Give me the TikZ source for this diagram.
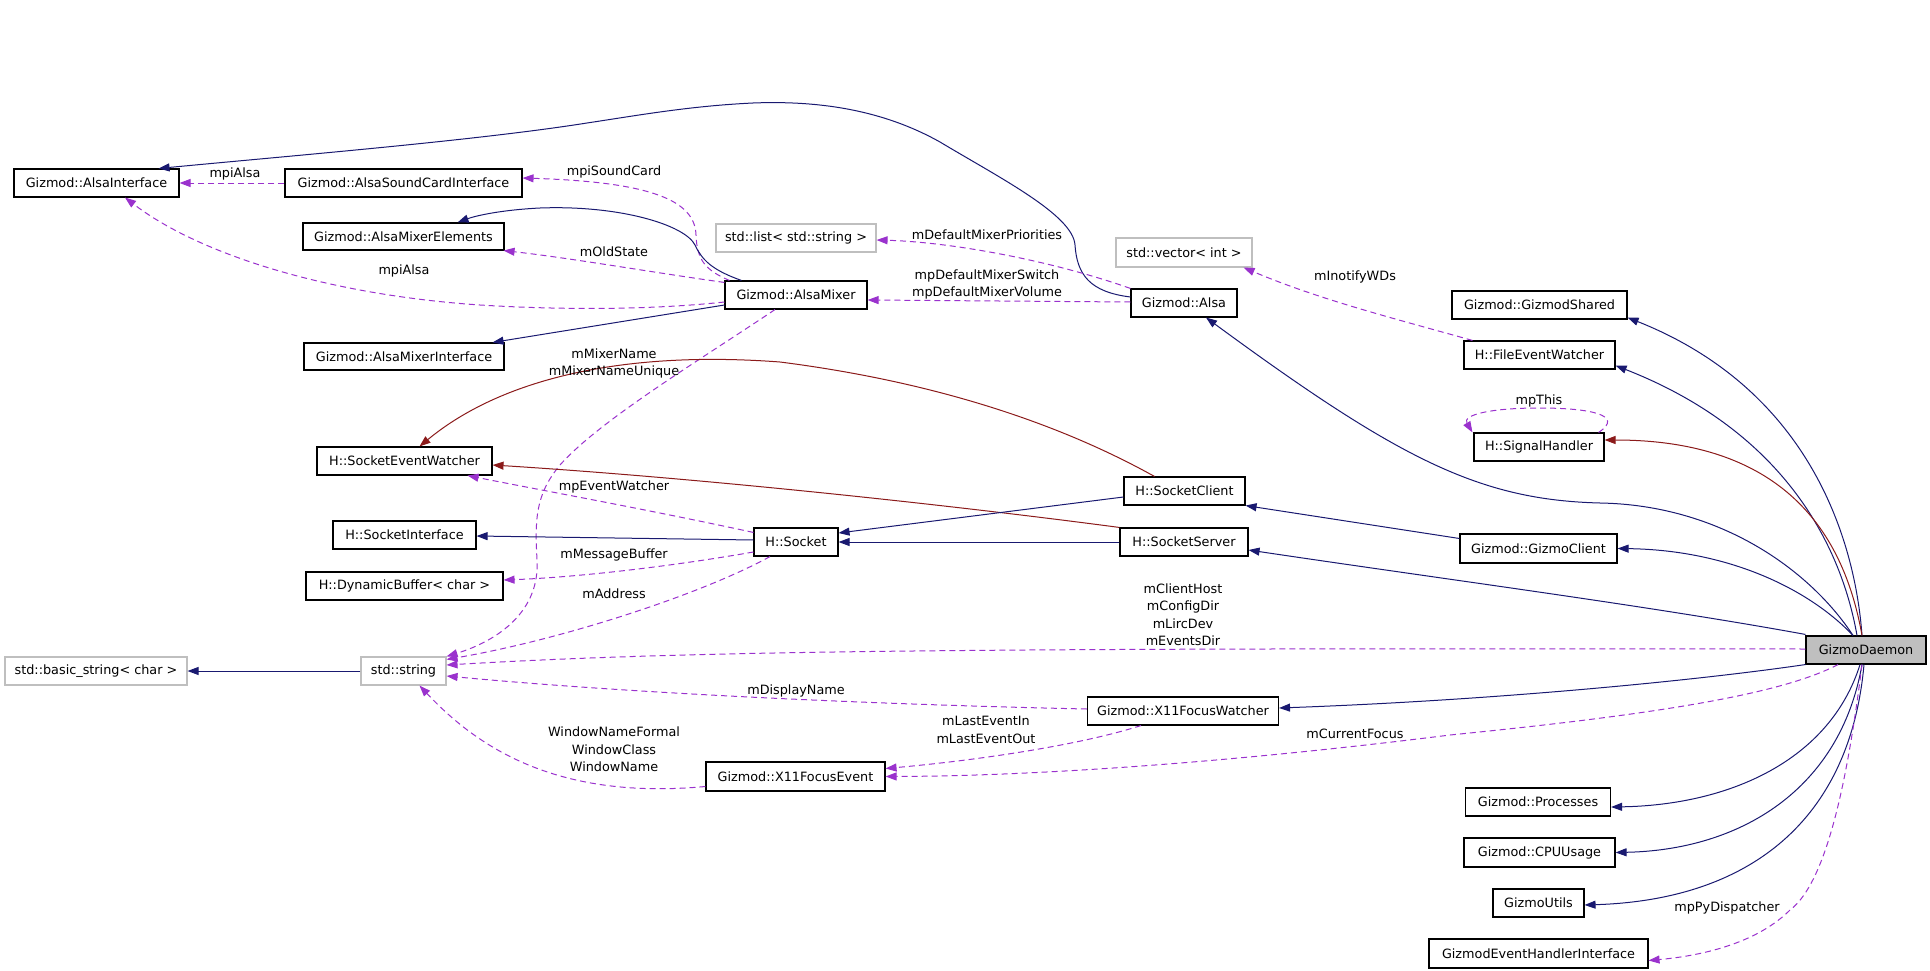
\documentclass[tikz,border=0pt]{standalone}
\usepackage{fontspec}
\setmainfont{DejaVu Sans}
\usetikzlibrary{arrows.meta}
\definecolor{edgeblue}{HTML}{191970}
\definecolor{edgered}{HTML}{8B1A1A}
\definecolor{edgepurple}{HTML}{9A32CD}
\definecolor{boxgray}{HTML}{BFBFBF}
\newcommand{\fs}{\fontsize{12.8}{17.5}\selectfont}
\tikzset{
  box/.style={draw=black, line width=1.1pt, fill=white, inner sep=0pt, minimum height=28pt, font=\fs},
  sbox/.style={box, draw=boxgray},
  inh/.style={draw=edgeblue, line width=1pt, -{Triangle[length=11pt,width=8pt]}},
  priv/.style={draw=edgered, line width=1pt, -{Triangle[length=11pt,width=8pt]}},
  usage/.style={draw=edgepurple, line width=1pt, dash pattern=on 6pt off 4pt, -{Triangle[length=11pt,width=8pt]}},
  lbl/.style={font=\fs, align=center, inner sep=0pt}
}
\begin{document}
\begin{tikzpicture}[x=1pt,y=-1pt]
\useasboundingbox (0,0) rectangle (1930,971);
% nodes
\node[box, minimum width=165pt] (ai) at (96.5,183) {Gizmod::AlsaInterface};
\node[box, minimum width=237pt] (asci) at (403.5,183) {Gizmod::AlsaSoundCardInterface};
\node[box, minimum width=201pt, minimum height=27pt] (ame) at (403.5,236.5) {Gizmod::AlsaMixerElements};
\node[box, minimum width=200pt, minimum height=27pt] (ami) at (404,356.5) {Gizmod::AlsaMixerInterface};
\node[sbox, minimum width=160pt] (slist) at (796,238) {std::list< std::string >};
\node[box, minimum width=142pt] (mixer) at (796,295) {Gizmod::AlsaMixer};
\node[box, minimum width=106pt] (alsa) at (1184,303) {Gizmod::Alsa};
\node[sbox, minimum width=136pt, minimum height=29pt] (svec) at (1184,252.5) {std::vector< int >};
\node[box, minimum width=175pt] (gshared) at (1539.5,305) {Gizmod::GizmodShared};
\node[box, minimum width=151pt] (few) at (1539.5,355) {H::FileEventWatcher};
\node[box, minimum width=130pt] (sh) at (1539,447) {H::SignalHandler};
\node[box, minimum width=157pt, minimum height=29pt] (gclient) at (1538.5,548.5) {Gizmod::GizmoClient};
\node[box, minimum width=175pt] (sew) at (404.5,461) {H::SocketEventWatcher};
\node[box, minimum width=143pt] (si) at (404.5,535) {H::SocketInterface};
\node[box, minimum width=197pt] (db) at (404.5,586) {H::DynamicBuffer< char >};
\node[sbox, minimum width=182pt] (bstr) at (96,671) {std::basic\_string< char >};
\node[sbox, minimum width=85pt] (str) at (403.5,671) {std::string};
\node[box, minimum width=84pt] (sock) at (796,542) {H::Socket};
\node[box, minimum width=121pt] (sclient) at (1184.5,491) {H::SocketClient};
\node[box, minimum width=128pt] (sserver) at (1184,542) {H::SocketServer};
\node[box, minimum width=191pt] (x11w) at (1183,711) {Gizmod::X11FocusWatcher};
\node[box, minimum width=179pt, minimum height=29pt] (x11e) at (795.5,776.5) {Gizmod::X11FocusEvent};
\node[box, minimum width=120pt, fill=boxgray] (gd) at (1866,650) {GizmoDaemon};
\node[box, minimum width=145pt] (proc) at (1538,802) {Gizmod::Processes};
\node[box, minimum width=151pt, minimum height=29pt] (cpu) at (1539.5,852.5) {Gizmod::CPUUsage};
\node[box, minimum width=91pt] (gutils) at (1538.5,903) {GizmoUtils};
\node[box, minimum width=219pt, minimum height=29pt] (gehi) at (1538.5,953.5) {GizmodEventHandlerInterface};

% edges
\draw[inh] ([yshift=6pt]alsa.west) .. controls (1090,292) and (1077,275) .. (1075,245)
  .. controls (1073,215) and (1000,178) .. (940,142)
  .. controls (890,114) and (830,100) .. (753,103)
  .. controls (690,106) and (640,115) .. (587,123)
  .. controls (480,140) and (300,155) .. ([xshift=-21pt]ai.north east);
\draw[usage] (asci.west) -- (ai.east);
\draw[usage] ([xshift=5pt]mixer.north west) .. controls (705,270) and (697,260) .. (696,235)
  .. controls (695,200) and (650,182) .. ([yshift=5pt]asci.east);
\draw[inh] ([xshift=17pt]mixer.north west) .. controls (712,270) and (702,260) .. (695,245)
  .. controls (685,225) and (620,205) .. (540,208)
  .. controls (500,210) and (475,216) .. ([xshift=-47pt]ame.north east);
\draw[usage] ([yshift=-2pt]mixer.north west) .. controls (650,272) and (570,258) .. ([xshift=-1pt]ame.south east);
\draw[usage] ([yshift=-7pt]mixer.west) .. controls (650,310) and (560,310) .. (480,305)
  .. controls (330,295) and (200,255) .. ([xshift=28.5pt]ai.south);
\draw[inh] ([yshift=-10pt]mixer.west) -- ([xshift=-12pt]ami.north east);
\draw[usage] ([xshift=-21pt]mixer.south) .. controls (700,360) and (600,420) .. (560,465)
  .. controls (535,495) and (535,520) .. (537,560)
  .. controls (540,610) and (500,640) .. (str.north east);
\draw[priv] ([xshift=-30pt]sclient.north) .. controls (1080,435) and (960,385) .. (780,362)
  .. controls (620,350) and (500,380) .. ([xshift=15pt]sew.north);
\draw[priv] (sserver.north west) .. controls (950,505) and (700,478) .. ([yshift=-4pt]sew.east);
\draw[usage] ([yshift=-5pt]sock.north west) .. controls (650,510) and (540,490) .. ([xshift=-25pt]sew.south east);
\draw[inh] ([yshift=2pt]sock.west) -- ([yshift=-1pt]si.east);
\draw[usage] ([yshift=-10pt]sock.west) .. controls (650,570) and (560,578) .. ([yshift=6pt]db.east);
\draw[usage] ([xshift=-26pt]sock.south) .. controls (700,595) and (560,640) .. ([yshift=-3pt]str.north east);
\draw[inh] ([yshift=-6pt]sclient.west) -- ([yshift=9pt]sock.east);
\draw[inh] (sserver.west) -- (sock.east);
\draw[usage] ([yshift=1pt]gd.west) .. controls (1000,648) and (700,650) .. ([yshift=6pt]str.east);
\draw[usage] ([yshift=2pt]x11w.west) .. controls (900,705) and (650,695) .. ([yshift=-5pt]str.east);
\draw[usage] ([yshift=-10pt]x11e.west) .. controls (560,800) and (480,750) .. ([xshift=16pt]str.south);
\draw[usage] ([xshift=-42pt]x11w.south) .. controls (1080,745) and (980,760) .. ([yshift=8pt]x11e.east);
\draw[usage] ([xshift=-28pt]gd.south) .. controls (1780,695) and (1650,715) .. (1450,735)
  .. controls (1250,760) and (1050,776) .. (x11e.east);
\draw[inh] ([xshift=-13pt]gd.north) .. controls (1810,570) and (1720,505) .. (1600,503)
  .. controls (1480,500) and (1400,460) .. ([xshift=22pt]alsa.south);
\draw[inh] ([xshift=-4pt]gd.north) .. controls (1855,540) and (1810,390) .. ([yshift=2pt]gshared.south east);
\draw[inh] ([xshift=-9pt]gd.north) .. controls (1840,540) and (1780,430) .. ([yshift=4pt]few.south east);
\draw[priv] ([xshift=-4pt]gd.north) .. controls (1845,540) and (1790,440) .. ([yshift=7pt]sh.east);
\draw[inh] ([xshift=-13pt]gd.north) .. controls (1810,590) and (1730,550) .. (gclient.east);
\draw[inh] ([yshift=10pt]gclient.west) -- (sclient.south east);
\draw[inh] ([yshift=1pt]gd.north west) .. controls (1650,606) and (1450,580) .. ([yshift=-8pt]sserver.east);
\draw[inh] (gd.south west) .. controls (1700,680) and (1500,700) .. ([yshift=3pt]x11w.east);
\draw[inh] ([xshift=-6pt]gd.south) .. controls (1830,760) and (1730,805) .. ([yshift=-5pt]proc.east);
\draw[inh] ([xshift=-4pt]gd.south) .. controls (1840,790) and (1740,850) .. (cpu.east);
\draw[inh] ([xshift=-2pt]gd.south) .. controls (1850,820) and (1750,900) .. ([yshift=-2pt]gutils.east);
\draw[usage] ([xshift=-4pt]gd.south) .. controls (1850,760) and (1830,880) .. (1790,910)
  .. controls (1760,940) and (1710,955) .. ([yshift=-7pt]gehi.east);
\draw[usage] ([xshift=-6pt]sh.north east) .. controls (1625,415) and (1590,408) .. (1539,408)
  .. controls (1490,408) and (1462,415) .. ([xshift=-1pt]sh.north west);
\draw[usage] ([xshift=9pt]few.north west) .. controls (1400,320) and (1320,300) .. ([xshift=-9pt]svec.south east);
\draw[usage] (alsa.north west) .. controls (1050,260) and (950,242) .. ([yshift=-2pt]slist.east);
\draw[usage] ([yshift=1pt]alsa.west) -- ([yshift=-5pt]mixer.east);
\draw[inh] (str.west) -- (bstr.east);

% labels
\node[lbl] (l1) at (235,174) {mpiAlsa};
\node[lbl] (l2) at (614,172) {mpiSoundCard};
\node[lbl] (l3) at (614,252) {mOldState};
\node[lbl] (l4) at (404,271) {mpiAlsa};
\node[lbl] (l5) at (614,363.5) {mMixerName\\mMixerNameUnique};
\node[lbl] (l6) at (987,235) {mDefaultMixerPriorities};
\node[lbl] (l7) at (987,284.5) {mpDefaultMixerSwitch\\mpDefaultMixerVolume};
\node[lbl] (l8) at (1355,277) {mInotifyWDs};
\node[lbl] (l9) at (1539,401) {mpThis};
\node[lbl] (l10) at (614,487) {mpEventWatcher};
\node[lbl] (l11) at (614,555) {mMessageBuffer};
\node[lbl] (l12) at (614,594) {mAddress};
\node[lbl] (l13) at (614,749.5) {WindowNameFormal\\WindowClass\\WindowName};
\node[lbl] (l14) at (1183,614.5) {mClientHost\\mConfigDir\\mLircDev\\mEventsDir};
\node[lbl] (l15) at (796,691) {mDisplayName};
\node[lbl] (l16) at (986,730) {mLastEventIn\\mLastEventOut};
\node[lbl] (l17) at (1355,734) {mCurrentFocus};
\node[lbl] (l18) at (1727,908) {mpPyDispatcher};
\end{tikzpicture}
\end{document}
